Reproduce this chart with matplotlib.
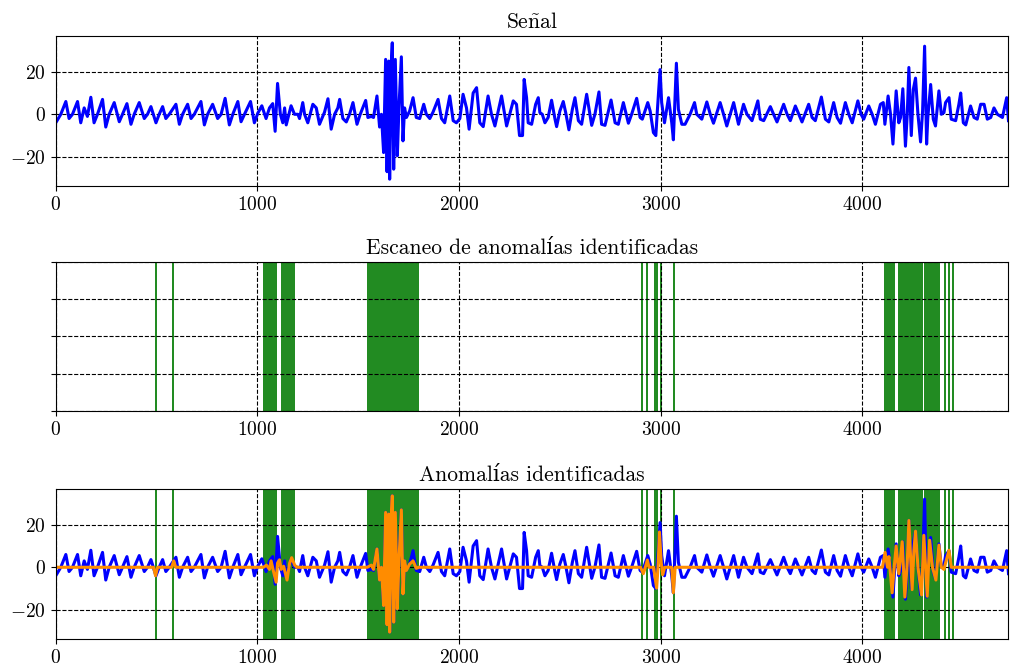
import matplotlib
matplotlib.use("Agg")
import matplotlib.pyplot as plt

plt.rcParams['font.family'] = ['cmr10', 'DejaVu Serif']
plt.rcParams['mathtext.fontset'] = 'cm'
plt.rcParams['axes.formatter.use_mathtext'] = True
plt.rcParams['axes.unicode_minus'] = True

# longitud de la senal
n_samples = 4725

# puntos de giro de la senal (muestra, valor)
sig_x = [0, 25, 50, 66, 83, 108, 124, 141, 157, 174, 190, 207, 232, 248, 265, 290, 315, 331, 353, 373,
         389, 414, 439, 455, 472, 497, 513, 530, 546, 563, 596, 613, 629, 654, 671, 687, 720, 737, 753, 778,
         803, 820, 840, 861, 878, 903, 919, 936, 966, 985, 1002, 1022, 1043, 1060, 1076, 1088, 1100, 1114, 1126, 1135,
         1143, 1167, 1184, 1201, 1209, 1225, 1234, 1250, 1275, 1292, 1308, 1333, 1350, 1366, 1383, 1399, 1408, 1424, 1441, 1457,
         1474, 1494, 1510, 1537, 1548, 1565, 1576, 1593, 1606, 1615, 1626, 1636, 1643, 1651, 1656, 1664, 1669, 1676, 1684, 1694,
         1702, 1714, 1722, 1730, 1739, 1755, 1772, 1788, 1805, 1825, 1838, 1855, 1871, 1896, 1913, 1929, 1954, 1971, 1987, 2004,
         2020, 2037, 2050, 2070, 2087, 2103, 2120, 2144, 2161, 2178, 2211, 2236, 2269, 2285, 2300, 2315, 2323, 2335, 2343, 2360,
         2380, 2393, 2401, 2413, 2426, 2442, 2459, 2476, 2484, 2500, 2517, 2529, 2545, 2562, 2575, 2592, 2608, 2633, 2658, 2674,
         2694, 2707, 2724, 2754, 2774, 2790, 2815, 2840, 2856, 2881, 2898, 2909, 2936, 2948, 2964, 2976, 2984, 2997, 3005, 3019,
         3039, 3055, 3063, 3078, 3088, 3105, 3121, 3146, 3168, 3179, 3204, 3229, 3246, 3262, 3295, 3312, 3328, 3362, 3386, 3411,
         3428, 3453, 3482, 3494, 3511, 3544, 3560, 3577, 3610, 3627, 3643, 3668, 3685, 3701, 3734, 3751, 3767, 3797, 3817, 3834,
         3858, 3875, 3892, 3916, 3933, 3950, 3978, 3994, 4007, 4032, 4049, 4065, 4090, 4104, 4112, 4128, 4140, 4152, 4168, 4181,
         4190, 4201, 4214, 4223, 4231, 4243, 4253, 4264, 4276, 4289, 4299, 4309, 4319, 4325, 4339, 4352, 4363, 4380, 4392, 4405,
         4413, 4430, 4441, 4463, 4479, 4488, 4501, 4513, 4537, 4554, 4570, 4587, 4604, 4620, 4637, 4653, 4670, 4695, 4716, 4725]
sig_y = [-4, 0, 6, -2, 0, 6, -4, 3, -1, 8, -4, 0, 7, -6, 0, 5.5, -3.5, 0, 5, -4.7,
         0, 5.5, -2, 0, 3.6, -4, 0, 3.6, -2, 0, 4.7, -4.7, 0, 4.7, -2, 0, 6, -5, 0, 4.7,
         -2, 0, 7.5, -5, 0, 6, -3.5, 0, 6, -4, 0.5, 4, -2, 3, 5, -8, 14.5, 0, -4, 3,
         -5, 4, 0, 0, -2, 5.5, 0, -4, 4.7, 3, -4.7, 1, 7.3, -7, 0, 3, 7, -2, -3.6, 0,
         5.5, -4.7, 0, 6.5, -1.5, -1, -1.5, 8.6, -6, 0, -18, 25.8, -27, 25, -30.5, 24, 33.6, -25.8, 25.8, -19.5,
         3, 27, -12.5, 3, -1.5, 1.5, 7.8, -1.5, -2, 4.7, 0, -2, 1, 7, -2, -4, 8.6, -3, -4, -2,
         9.4, 3, -7, 10, 12.5, -4, -5.8, 8.6, 0, -5.5, 8.6, -5.5, 6.3, 4.7, -10, -10, 16.4, 7.8, -4, -4.7,
         4.7, 7.8, 0.8, 0, -4, -1.5, 6.6, -2.3, -5.8, 1.5, 6, 0.8, -7.3, 2.3, 7.8, -3, -4.7, 9.4, -5.2, 0,
         10.5, -4.7, -5.2, 6.7, -4, -4.7, 5.5, -4.2, 0, 7.5, -1.5, -2.3, 5.5, 1.5, -8.6, -10, 2.3, 21, 5.5, -4,
         7.8, -4, -12, 24, 2.3, -4.7, -4.7, 0, 5.5, 0, -2.3, 5.8, 0, -4.2, 5.5, 0, -5.5, 5.5, -4.7, 4.7,
         0, -3, 6.3, -2.3, -3, 3.6, 0, -3.6, 4.7, 0, -3, 3.9, 0, -3.6, 4.7, -1.5, -3, 8.1, -2.3, -3.6,
         5.5, -1.5, -4.2, 5.5, 0, -4, 6.3, 0, -2.3, 3.9, 0, -4.7, 4.7, 5.5, -4.7, 8.6, 0, -14, 11, -4,
         -1.5, 12, -15, 0, 22, -10, 11.7, 17, 0, -13, 1.5, 32, -14, -1.5, 14, -2.3, -5.5, 11, 0, 0.8,
         5.5, 7.8, -2.3, -3, 4.7, 10, -4, -5, 3.9, -1.5, -2.3, 4.7, 4.7, -2.3, -1.5, 3, 0, -1.5, 7.8, -3]

# componente anomala reconstruida (naranja)
anom_x = [0, 485, 495, 505, 575, 585, 595,
          1030, 1045, 1060, 1068, 1080, 1093, 1100, 1110, 1118, 1130, 1147, 1160, 1170, 1185, 1195,
          1545, 1565, 1576, 1593, 1606, 1615, 1626, 1636, 1643, 1651, 1656, 1664, 1669, 1676, 1684, 1694,
          1702, 1714, 1722, 1730, 1739, 1755, 1772, 1788, 1800,
          2900, 2914, 2924, 2934, 2942, 2965, 2980, 2987, 2994, 3003, 3010, 3020, 3055, 3063, 3072,
          4100, 4113, 4125, 4132, 4148, 4160, 4168, 4181, 4198, 4211, 4223, 4231, 4247, 4256, 4264, 4276,
          4294, 4305, 4322, 4334, 4348, 4365, 4380, 4392, 4405, 4413, 4430, 4441, 4456, n_samples]
anom_y = [0, 0, -4, 0, 0, 3, 0,
          0, 1, -1, 3, -2, -7, 2, 3.5, -1, 0.5, -6, 2, 4.5, 1, 0,
          0, 1, -1, 8.6, -6, 0, -18, 25.8, -27, 25, -30.5, 24, 33.6, -25.8, 25.8, -19.5,
          3, 27, -12.5, 3, -1.5, 1.5, 3, -0.5, 0,
          0, -3, 0, 3.4, 0, 0, -9.8, 0, 16.6, 2, -3.5, 0, 0, -12, 0,
          0, 7, 0, 5, -12, 2, 10, -3, 12, -14, 2, 22, -10.5, 8, 17, 0,
          -13, 15, -13.6, 12.7, 0, -6, 10.4, 0, -1, 2, 8, 0, 0, 0]

# intervalos marcados como anomalos
band_start = [492, 576, 1028, 1118, 1545, 2904, 2927, 2969, 2997, 3060, 4108, 4178, 4307, 4405, 4426, 4446]
band_end = [502, 586, 1098, 1187, 1803, 2914, 2937, 2987, 3007, 3070, 4161, 4301, 4385, 4415, 4436, 4456]

fig = plt.figure(figsize=(10.1, 6.7), dpi=100)
ax1 = fig.add_axes([0.0552, 0.7224, 0.9433, 0.2239])
ax2 = fig.add_axes([0.0552, 0.3866, 0.9433, 0.2224])
ax3 = fig.add_axes([0.0552, 0.0463, 0.9433, 0.2239])

ax1.plot(sig_x, sig_y, color='blue', lw=2.2)
ax1.set_title('Se$\\tilde{\\mathrm{n}}$al', fontsize=15.5)

for s, e in zip(band_start, band_end):
    ax2.axvspan(s, e, color='forestgreen', lw=0)
ax2.set_ylim(0, 1)
ax2.set_yticks([0, 0.25, 0.5, 0.75, 1])
ax2.set_yticklabels([])
ax2.set_title('Escaneo de anomalías identificadas', fontsize=15.5)

for s, e in zip(band_start, band_end):
    ax3.axvspan(s, e, color='forestgreen', lw=0)
ax3.plot(sig_x, sig_y, color='blue', lw=2.2)
ax3.plot(anom_x, anom_y, color='darkorange', lw=2.2)
ax3.set_title('Anomalías identificadas', fontsize=15.5)

for ax in [ax1, ax2, ax3]:
    ax.set_xlim(0, n_samples)
    ax.grid(True, color='black', linestyle='--', lw=0.8)
    ax.tick_params(labelsize=14)
for ax in [ax1, ax3]:
    ax.set_yticks([-20, 0, 20])
    ax.set_ylim(-33.7, 36.8)

fig.savefig('out.png', dpi=100)
